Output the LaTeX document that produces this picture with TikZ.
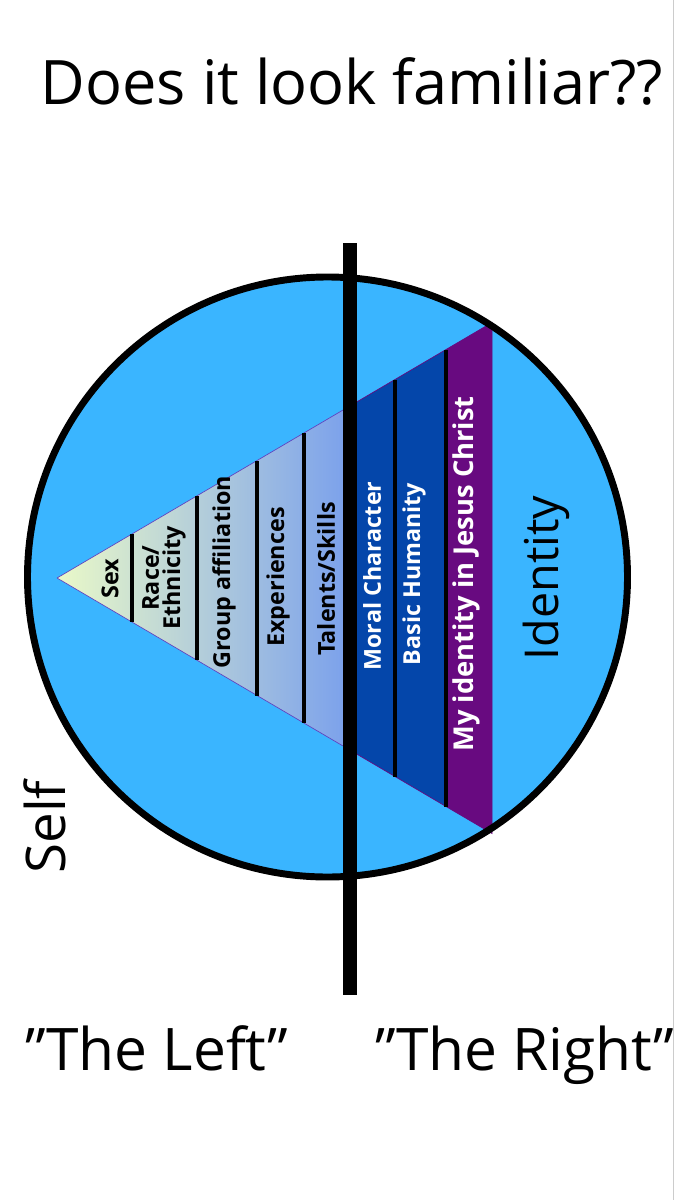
\documentclass[tikz,border=0pt]{standalone}
\usepackage{fontspec}
\setmainfont{Open Sans}
\definecolor{sky}{RGB}{58,181,255}
\definecolor{apexc}{RGB}{234,249,200}
\definecolor{midc}{RGB}{178,206,224}
\definecolor{barc}{RGB}{122,160,236}
\definecolor{cobalt}{RGB}{4,70,170}
\definecolor{violet}{RGB}{104,10,128}
\definecolor{edgec}{RGB}{96,64,190}
\tikzset{
  big/.style={inner sep=0pt, font=\fontsize{44}{48}\selectfont},
  side/.style={inner sep=0pt, rotate=90},
  lbl/.style={inner sep=0pt, rotate=90, font=\bfseries\fontsize{17.5}{19}\selectfont},
  wlbl/.style={lbl, text=white},
  divider/.style={line width=2.4pt, black},
}
\begin{document}
\begin{tikzpicture}[x=0.75pt,y=-0.75pt]
\useasboundingbox (0,0) rectangle (675,1200);
\fill[white] (0,0) rectangle (675,1200);
\draw[black!20, line width=0.75pt] (673,0) -- (673,1200);
% circle
\fill[sky] (327.5,577) circle[radius=225pt];
% left gradient triangle
\shade[left color=apexc, middle color=midc, right color=barc] (57,578) -- (350,405.9) -- (350,750.1) -- cycle;
\draw[edgec, line width=0.5pt] (57,578) -- (350,405.9) (57,578) -- (350,750.1);
% right part
\fill[cobalt] (350,405.9) -- (446,349.5) -- (446,806.5) -- (350,750.1) -- cycle;
\fill[violet] (446,349.5) -- (492,322.5) -- (492,833.5) -- (446,806.5) -- cycle;
\draw[violet, line width=0.5pt] (350,405.9) -- (492,322.5) -- (492,833.5) -- (350,750.1);
% dividers
\draw[divider] (132,533.9) -- (132,622.1);
\draw[divider] (197,495.8) -- (197,660.2);
\draw[divider] (257,460.5) -- (257,695.5);
\draw[divider] (304,432.9) -- (304,723.1);
\draw[divider] (395,379.5) -- (395,776.5);
\draw[divider] (446,349.5) -- (446,806.5);
% circle outline
\draw[black, line width=5.2pt] (327.5,577) circle[radius=225pt];
% bar
\fill[black] (343,243) rectangle (357,995);
% labels
\node[lbl] (sex) at (110,579) {Sex};
\node[lbl, align=center] (race) at (164,578) {Race/\\[-3pt]Ethnicity};
\node[lbl] (group) at (224,572) {Group affiliation};
\node[lbl] (exp) at (278,577) {Experiences};
\node[lbl] (tal) at (326,579) {Talents/Skills};
\node[wlbl] (moral) at (372,576) {Moral Character};
\node[wlbl] (basic) at (414,574) {Basic Humanity};
\node[wlbl, font=\bfseries\fontsize{20.5}{22}\selectfont] (jesus) at (466,574) {My identity in Jesus Christ};
% big texts
\node[big, font=\fontsize{46}{50}\selectfont, anchor=base] (title) at (352,104) {Does it look familiar??};
\node[big, anchor=base] (left) at (157,1070) {”The Left”};
\node[big, anchor=base] (right) at (525,1070) {”The Right”};
\node[side, font=\fontsize{41}{44}\selectfont] (self) at (45,827) {Self};
\node[side, font=\fontsize{35}{38}\selectfont] (ident) at (546,578) {Identity};
\end{tikzpicture}
\end{document}
